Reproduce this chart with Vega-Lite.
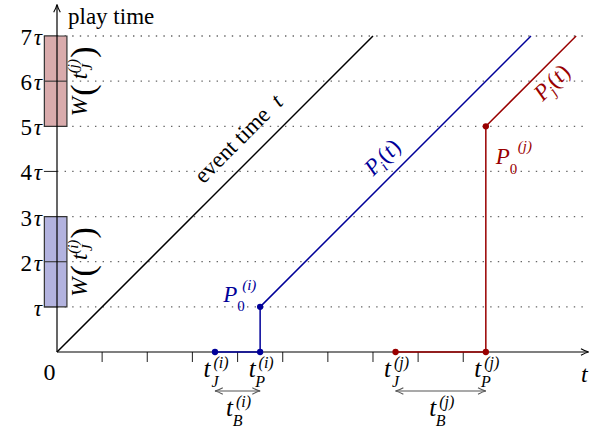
{
  "$schema": "https://vega.github.io/schema/vega-lite/v6.json",
  "width": 595,
  "height": 432,
  "autosize": {"type": "none"},
  "padding": 0,
  "config": {
    "view": {"stroke": null},
    "text": {"font": "Liberation Serif", "fontSize": 23, "color": "black"}
  },
  "datasets": {
    "grid": [
      {"t": 0, "t2": 11.75, "p": 1}, {"t": 0, "t2": 11.75, "p": 2}, {"t": 0, "t2": 11.75, "p": 3},
      {"t": 0, "t2": 11.75, "p": 4}, {"t": 0, "t2": 11.75, "p": 5}, {"t": 0, "t2": 11.75, "p": 6},
      {"t": 0, "t2": 11.75, "p": 7}
    ],
    "xticks": [
      {"t": 1, "p": 0, "p2": -0.22}, {"t": 2, "p": 0, "p2": -0.22}, {"t": 3, "p": 0, "p2": -0.22},
      {"t": 4, "p": 0, "p2": -0.22}, {"t": 5, "p": 0, "p2": -0.22}, {"t": 6, "p": 0, "p2": -0.22},
      {"t": 7, "p": 0, "p2": -0.22}, {"t": 8, "p": 0, "p2": -0.22}, {"t": 9, "p": 0, "p2": -0.22}
    ],
    "yticks": [
      {"t": -0.29, "t2": 0, "p": 1, "coef": ""}, {"t": -0.29, "t2": 0, "p": 2, "coef": "2"},
      {"t": -0.29, "t2": 0, "p": 3, "coef": "3"}, {"t": -0.29, "t2": 0, "p": 4, "coef": "4"},
      {"t": -0.29, "t2": 0, "p": 5, "coef": "5"}, {"t": -0.29, "t2": 0, "p": 6, "coef": "6"},
      {"t": -0.29, "t2": 0, "p": 7, "coef": "7"}
    ],
    "windows": [
      {"series": "i", "t": -0.28, "t2": 0.22, "p": 1, "p2": 3},
      {"series": "j", "t": -0.28, "t2": 0.22, "p": 5, "p2": 7}
    ],
    "winmid": [
      {"t": -0.28, "t2": 0.22, "p": 2},
      {"t": -0.28, "t2": 0.22, "p": 6}
    ],
    "wlabels": [
      {"series": "i", "t": 0.22, "p": 2, "sup": "(i)", "sub": "J"},
      {"series": "j", "t": 0.22, "p": 6, "sup": "(j)", "sub": "J"}
    ],
    "axes": [
      {"t": 0, "t2": 11.76, "p": 0, "p2": 0},
      {"t": 0, "t2": 0, "p": 0, "p2": 7.68}
    ],
    "axisArrowRight": [{"t": 11.78, "p": 0}],
    "axisArrowUp": [{"t": 0, "p": 7.70}],
    "event": [{"t": 0, "p": 0}, {"t": 7, "p": 7}],
    "paths": [
      {"series": "i", "order": 1, "t": 3.5, "p": 0},
      {"series": "i", "order": 2, "t": 4.5, "p": 0},
      {"series": "i", "order": 3, "t": 4.5, "p": 1},
      {"series": "i", "order": 4, "t": 10.5, "p": 7},
      {"series": "j", "order": 1, "t": 7.5, "p": 0},
      {"series": "j", "order": 2, "t": 9.5, "p": 0},
      {"series": "j", "order": 3, "t": 9.5, "p": 5},
      {"series": "j", "order": 4, "t": 11.5, "p": 7}
    ],
    "dots": [
      {"series": "i", "t": 3.5, "p": 0}, {"series": "i", "t": 4.5, "p": 0}, {"series": "i", "t": 4.5, "p": 1},
      {"series": "j", "t": 7.5, "p": 0}, {"series": "j", "t": 9.5, "p": 0}, {"series": "j", "t": 9.5, "p": 5}
    ],
    "brackets": [
      {"t": 3.5, "t2": 4.5, "p": -0.864},
      {"t": 7.5, "t2": 9.5, "p": -0.864}
    ],
    "bracketRight": [{"t": 4.5, "p": -0.864}, {"t": 9.5, "p": -0.864}],
    "bracketLeft": [{"t": 3.5, "p": -0.864}, {"t": 7.5, "p": -0.864}],
    "ticklabels": [
      {"t": 3.5, "p": 0, "base": "t", "sup": "(i)", "sub": "J"},
      {"t": 4.5, "p": 0, "base": "t", "sup": "(i)", "sub": "P"},
      {"t": 7.5, "p": 0, "base": "t", "sup": "(j)", "sub": "J"},
      {"t": 9.5, "p": 0, "base": "t", "sup": "(j)", "sub": "P"},
      {"t": 4.0, "p": -0.864, "base": "t", "sup": "(i)", "sub": "B"},
      {"t": 8.5, "p": -0.864, "base": "t", "sup": "(j)", "sub": "B"}
    ],
    "origin": [{"t": 0, "p": 0, "label": "0"}],
    "xend": [{"t": 11.76, "p": 0, "label": "t"}],
    "yend": [{"t": 0, "p": 7.68, "label": "play time"}],
    "eventlabel": [{"t": 3.556, "p": 3.556, "words": "event time", "var": "t"}],
    "p0labels": [
      {"series": "i", "t": 4.5, "p": 1, "base": "P", "sub": "0", "sup": "(i)"},
      {"series": "j", "t": 9.5, "p": 5, "base": "P", "sub": "0", "sup": "(j)"}
    ],
    "plabels": [
      {"series": "i", "t": 7.294, "p": 3.794, "base": "P", "sub": "i", "open": "(", "var": "t", "close": ")"},
      {"series": "j", "t": 10.5, "p": 6.0, "base": "P", "sub": "j", "open": "(", "var": "t", "close": ")"}
    ]
  },
  "encoding": {
    "x": {"field": "t", "type": "quantitative", "scale": {"domain": [-1.2627, 11.9184], "nice": false, "zero": false}, "axis": null},
    "y": {"field": "p", "type": "quantitative", "scale": {"domain": [-1.7723, 7.798], "nice": false, "zero": false}, "axis": null}
  },
  "layer": [
    {
      "data": {"name": "grid"},
      "mark": {"type": "rule", "color": "#666666", "strokeWidth": 1.3, "strokeDash": [1.4, 6.2]},
      "encoding": {"x2": {"field": "t2"}}
    },
    {
      "data": {"name": "xticks"},
      "mark": {"type": "rule", "color": "#333333", "strokeWidth": 1.1},
      "encoding": {"y2": {"field": "p2"}}
    },
    {
      "data": {"name": "yticks"},
      "mark": {"type": "rule", "color": "#333333", "strokeWidth": 1.1},
      "encoding": {"x2": {"field": "t2"}}
    },
    {
      "data": {"name": "yticks"},
      "mark": {"type": "text", "align": "right", "baseline": "middle", "dx": -12, "dy": 2},
      "encoding": {"text": {"field": "coef"}}
    },
    {
      "data": {"name": "yticks"},
      "mark": {"type": "text", "align": "right", "baseline": "middle", "fontStyle": "italic", "dx": -2, "dy": 2},
      "encoding": {"text": {"value": "τ"}}
    },
    {
      "data": {"name": "windows"},
      "mark": {"type": "rect", "stroke": "#333333", "strokeWidth": 1.2},
      "encoding": {
        "x2": {"field": "t2"},
        "y2": {"field": "p2"},
        "fill": {"field": "series", "type": "nominal", "scale": {"domain": ["i", "j"], "range": ["#b3b3df", "#d9abac"]}, "legend": null}
      }
    },
    {
      "data": {"name": "winmid"},
      "mark": {"type": "rule", "color": "#333333", "strokeWidth": 1.1},
      "encoding": {"x2": {"field": "t2"}}
    },
    {
      "data": {"name": "axes"},
      "mark": {"type": "rule", "color": "black", "strokeWidth": 1.2},
      "encoding": {"x2": {"field": "t2"}, "y2": {"field": "p2"}}
    },
    {
      "data": {"name": "axisArrowRight"},
      "mark": {"type": "point", "shape": "M -1.3 -0.55 Q -0.5 -0.1 0 0 Q -0.5 0.1 -1.3 0.55", "filled": false, "size": 144, "color": "black", "strokeWidth": 1.1, "opacity": 1}
    },
    {
      "data": {"name": "axisArrowUp"},
      "mark": {"type": "point", "shape": "M -1.3 -0.55 Q -0.5 -0.1 0 0 Q -0.5 0.1 -1.3 0.55", "filled": false, "size": 144, "angle": 270, "color": "black", "strokeWidth": 1.1, "opacity": 1}
    },
    {
      "data": {"name": "event"},
      "mark": {"type": "line", "color": "black", "strokeWidth": 1.5}
    },
    {
      "data": {"name": "paths"},
      "mark": {"type": "line", "strokeWidth": 1.5},
      "encoding": {
        "order": {"field": "order", "type": "quantitative"},
        "color": {"field": "series", "type": "nominal", "scale": {"domain": ["i", "j"], "range": ["#000099", "#990000"]}, "legend": null}
      }
    },
    {
      "data": {"name": "dots"},
      "mark": {"type": "point", "filled": true, "size": 40, "opacity": 1},
      "encoding": {
        "color": {"field": "series", "type": "nominal", "scale": {"domain": ["i", "j"], "range": ["#000099", "#990000"]}, "legend": null}
      }
    },
    {
      "data": {"name": "brackets"},
      "mark": {"type": "rule", "color": "#555555", "strokeWidth": 1.2},
      "encoding": {"x2": {"field": "t2"}}
    },
    {
      "data": {"name": "bracketRight"},
      "mark": {"type": "point", "shape": "M -1.3 -0.55 Q -0.5 -0.1 0 0 Q -0.5 0.1 -1.3 0.55", "filled": false, "size": 144, "color": "#555555", "strokeWidth": 1.1, "opacity": 1}
    },
    {
      "data": {"name": "bracketLeft"},
      "mark": {"type": "point", "shape": "M -1.3 -0.55 Q -0.5 -0.1 0 0 Q -0.5 0.1 -1.3 0.55", "filled": false, "size": 144, "angle": 180, "color": "#555555", "strokeWidth": 1.1, "opacity": 1}
    },
    {
      "data": {"name": "ticklabels"},
      "mark": {"type": "text", "align": "center", "baseline": "alphabetic", "fontStyle": "italic", "fontSize": 25, "dx": -8, "dy": 25},
      "encoding": {"text": {"field": "base"}}
    },
    {
      "data": {"name": "ticklabels"},
      "mark": {"type": "text", "align": "center", "baseline": "alphabetic", "fontStyle": "italic", "fontSize": 16, "dx": 6, "dy": 16},
      "encoding": {"text": {"field": "sup"}}
    },
    {
      "data": {"name": "ticklabels"},
      "mark": {"type": "text", "align": "center", "baseline": "alphabetic", "fontStyle": "italic", "fontSize": 16, "dx": 0, "dy": 35},
      "encoding": {"text": {"field": "sub"}}
    },
    {
      "data": {"name": "origin"},
      "mark": {"type": "text", "align": "center", "baseline": "middle", "fontSize": 24, "dx": -7.5, "dy": 21.5},
      "encoding": {"text": {"field": "label"}}
    },
    {
      "data": {"name": "xend"},
      "mark": {"type": "text", "align": "center", "baseline": "alphabetic", "fontStyle": "italic", "fontSize": 24, "dx": -3.5, "dy": 30},
      "encoding": {"text": {"field": "label"}}
    },
    {
      "data": {"name": "yend"},
      "mark": {"type": "text", "align": "left", "baseline": "alphabetic", "dx": 11, "dy": 18.7},
      "encoding": {"text": {"field": "label"}}
    },
    {
      "data": {"name": "eventlabel"},
      "mark": {"type": "text", "align": "left", "baseline": "alphabetic", "angle": 315, "dx": -5, "dy": -15},
      "encoding": {"text": {"field": "words"}}
    },
    {
      "data": {"name": "eventlabel"},
      "mark": {"type": "text", "align": "left", "baseline": "alphabetic", "angle": 315, "fontStyle": "italic", "dx": 103, "dy": -15},
      "encoding": {"text": {"field": "var"}}
    },
    {
      "data": {"name": "wlabels"},
      "mark": {"type": "text", "align": "left", "baseline": "alphabetic", "angle": 270, "fontStyle": "italic", "dx": -35, "dy": 20},
      "encoding": {"text": {"value": "W"}}
    },
    {
      "data": {"name": "wlabels"},
      "mark": {"type": "text", "align": "center", "baseline": "middle", "angle": 270, "fontSize": 34, "dx": -9, "dy": 17},
      "encoding": {"text": {"value": "("}}
    },
    {
      "data": {"name": "wlabels"},
      "mark": {"type": "text", "align": "center", "baseline": "alphabetic", "angle": 270, "fontStyle": "italic", "dx": 5, "dy": 20},
      "encoding": {"text": {"value": "t"}}
    },
    {
      "data": {"name": "wlabels"},
      "mark": {"type": "text", "align": "center", "baseline": "alphabetic", "angle": 270, "fontStyle": "italic", "fontSize": 15, "dx": 15, "dy": 11},
      "encoding": {"text": {"field": "sup"}}
    },
    {
      "data": {"name": "wlabels"},
      "mark": {"type": "text", "align": "center", "baseline": "alphabetic", "angle": 270, "fontStyle": "italic", "fontSize": 15, "dx": 14, "dy": 25},
      "encoding": {"text": {"field": "sub"}}
    },
    {
      "data": {"name": "wlabels"},
      "mark": {"type": "text", "align": "center", "baseline": "middle", "angle": 270, "fontSize": 34, "dx": 29, "dy": 17},
      "encoding": {"text": {"value": ")"}}
    },
    {
      "data": {"name": "p0labels"},
      "transform": [{"filter": "datum.series === 'i'"}],
      "mark": {"type": "text", "align": "left", "baseline": "alphabetic", "fontStyle": "italic", "dx": -37, "dy": -5},
      "encoding": {"text": {"field": "base"}, "color": {"field": "series", "type": "nominal", "scale": {"domain": ["i", "j"], "range": ["#000099", "#990000"]}, "legend": null}}
    },
    {
      "data": {"name": "p0labels"},
      "transform": [{"filter": "datum.series === 'i'"}],
      "mark": {"type": "text", "align": "left", "baseline": "alphabetic", "fontSize": 15, "dx": -23, "dy": 4},
      "encoding": {"text": {"field": "sub"}, "color": {"field": "series", "type": "nominal", "scale": {"domain": ["i", "j"], "range": ["#000099", "#990000"]}, "legend": null}}
    },
    {
      "data": {"name": "p0labels"},
      "transform": [{"filter": "datum.series === 'i'"}],
      "mark": {"type": "text", "align": "left", "baseline": "alphabetic", "fontStyle": "italic", "fontSize": 15, "dx": -18, "dy": -17},
      "encoding": {"text": {"field": "sup"}, "color": {"field": "series", "type": "nominal", "scale": {"domain": ["i", "j"], "range": ["#000099", "#990000"]}, "legend": null}}
    },
    {
      "data": {"name": "p0labels"},
      "transform": [{"filter": "datum.series === 'j'"}],
      "mark": {"type": "text", "align": "left", "baseline": "alphabetic", "fontStyle": "italic", "dx": 10, "dy": 38},
      "encoding": {"text": {"field": "base"}, "color": {"field": "series", "type": "nominal", "scale": {"domain": ["i", "j"], "range": ["#000099", "#990000"]}, "legend": null}}
    },
    {
      "data": {"name": "p0labels"},
      "transform": [{"filter": "datum.series === 'j'"}],
      "mark": {"type": "text", "align": "left", "baseline": "alphabetic", "fontSize": 15, "dx": 24, "dy": 48},
      "encoding": {"text": {"field": "sub"}, "color": {"field": "series", "type": "nominal", "scale": {"domain": ["i", "j"], "range": ["#000099", "#990000"]}, "legend": null}}
    },
    {
      "data": {"name": "p0labels"},
      "transform": [{"filter": "datum.series === 'j'"}],
      "mark": {"type": "text", "align": "left", "baseline": "alphabetic", "fontStyle": "italic", "fontSize": 15, "dx": 32, "dy": 25},
      "encoding": {"text": {"field": "sup"}, "color": {"field": "series", "type": "nominal", "scale": {"domain": ["i", "j"], "range": ["#000099", "#990000"]}, "legend": null}}
    },
    {
      "data": {"name": "plabels"},
      "transform": [{"filter": "datum.series === 'i'"}],
      "mark": {"type": "text", "align": "left", "baseline": "alphabetic", "angle": 315, "fontStyle": "italic", "dx": -6.5, "dy": -12},
      "encoding": {"text": {"field": "base"}, "color": {"field": "series", "type": "nominal", "scale": {"domain": ["i", "j"], "range": ["#000099", "#990000"]}, "legend": null}}
    },
    {
      "data": {"name": "plabels"},
      "transform": [{"filter": "datum.series === 'i'"}],
      "mark": {"type": "text", "align": "left", "baseline": "alphabetic", "angle": 315, "fontStyle": "italic", "fontSize": 15, "dx": 6.5, "dy": -7},
      "encoding": {"text": {"field": "sub"}, "color": {"field": "series", "type": "nominal", "scale": {"domain": ["i", "j"], "range": ["#000099", "#990000"]}, "legend": null}}
    },
    {
      "data": {"name": "plabels"},
      "transform": [{"filter": "datum.series === 'i'"}],
      "mark": {"type": "text", "align": "left", "baseline": "alphabetic", "angle": 315, "dx": 11.7, "dy": -12},
      "encoding": {"text": {"field": "open"}, "color": {"field": "series", "type": "nominal", "scale": {"domain": ["i", "j"], "range": ["#000099", "#990000"]}, "legend": null}}
    },
    {
      "data": {"name": "plabels"},
      "transform": [{"filter": "datum.series === 'i'"}],
      "mark": {"type": "text", "align": "left", "baseline": "alphabetic", "angle": 315, "fontStyle": "italic", "dx": 19.6, "dy": -12},
      "encoding": {"text": {"field": "var"}, "color": {"field": "series", "type": "nominal", "scale": {"domain": ["i", "j"], "range": ["#000099", "#990000"]}, "legend": null}}
    },
    {
      "data": {"name": "plabels"},
      "transform": [{"filter": "datum.series === 'i'"}],
      "mark": {"type": "text", "align": "left", "baseline": "alphabetic", "angle": 315, "dx": 26.5, "dy": -12},
      "encoding": {"text": {"field": "close"}, "color": {"field": "series", "type": "nominal", "scale": {"domain": ["i", "j"], "range": ["#000099", "#990000"]}, "legend": null}}
    },
    {
      "data": {"name": "plabels"},
      "transform": [{"filter": "datum.series === 'j'"}],
      "mark": {"type": "text", "align": "left", "baseline": "alphabetic", "angle": 315, "fontStyle": "italic", "dx": -6.5, "dy": 23},
      "encoding": {"text": {"field": "base"}, "color": {"field": "series", "type": "nominal", "scale": {"domain": ["i", "j"], "range": ["#000099", "#990000"]}, "legend": null}}
    },
    {
      "data": {"name": "plabels"},
      "transform": [{"filter": "datum.series === 'j'"}],
      "mark": {"type": "text", "align": "left", "baseline": "alphabetic", "angle": 315, "fontStyle": "italic", "fontSize": 15, "dx": 6.5, "dy": 28},
      "encoding": {"text": {"field": "sub"}, "color": {"field": "series", "type": "nominal", "scale": {"domain": ["i", "j"], "range": ["#000099", "#990000"]}, "legend": null}}
    },
    {
      "data": {"name": "plabels"},
      "transform": [{"filter": "datum.series === 'j'"}],
      "mark": {"type": "text", "align": "left", "baseline": "alphabetic", "angle": 315, "dx": 11.7, "dy": 23},
      "encoding": {"text": {"field": "open"}, "color": {"field": "series", "type": "nominal", "scale": {"domain": ["i", "j"], "range": ["#000099", "#990000"]}, "legend": null}}
    },
    {
      "data": {"name": "plabels"},
      "transform": [{"filter": "datum.series === 'j'"}],
      "mark": {"type": "text", "align": "left", "baseline": "alphabetic", "angle": 315, "fontStyle": "italic", "dx": 19.6, "dy": 23},
      "encoding": {"text": {"field": "var"}, "color": {"field": "series", "type": "nominal", "scale": {"domain": ["i", "j"], "range": ["#000099", "#990000"]}, "legend": null}}
    },
    {
      "data": {"name": "plabels"},
      "transform": [{"filter": "datum.series === 'j'"}],
      "mark": {"type": "text", "align": "left", "baseline": "alphabetic", "angle": 315, "dx": 26.5, "dy": 23},
      "encoding": {"text": {"field": "close"}, "color": {"field": "series", "type": "nominal", "scale": {"domain": ["i", "j"], "range": ["#000099", "#990000"]}, "legend": null}}
    }
  ]
}
